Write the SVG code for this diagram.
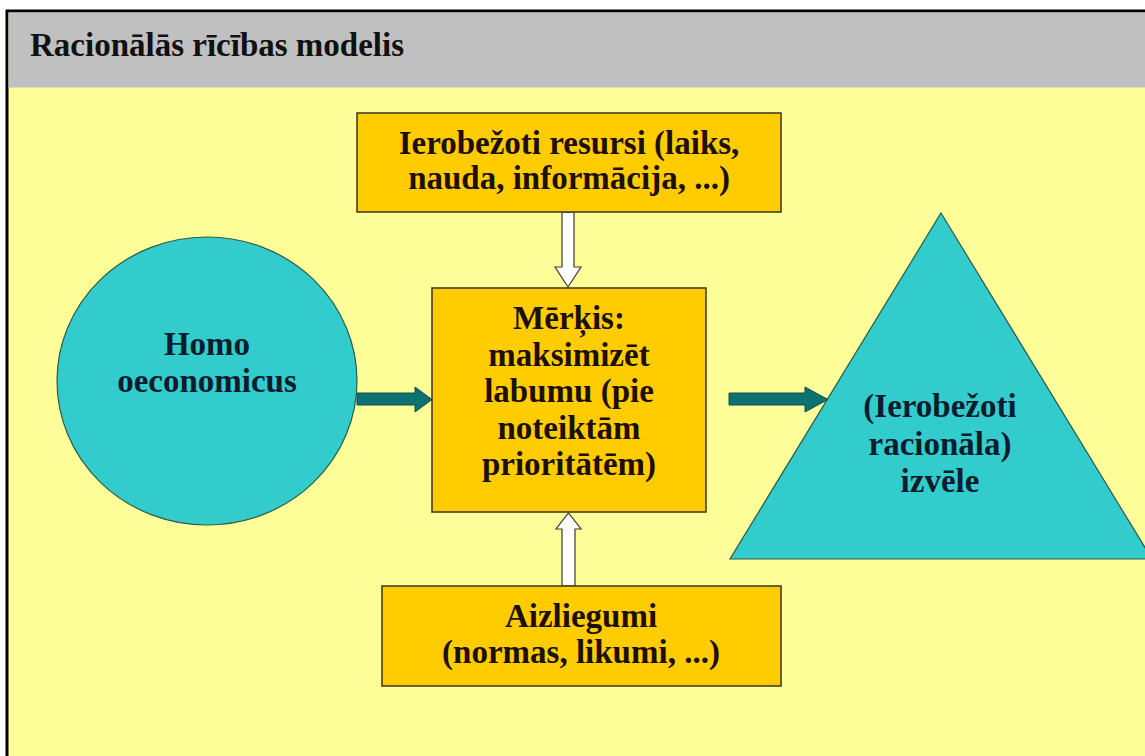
<svg xmlns="http://www.w3.org/2000/svg" width="1145" height="756" viewBox="0 0 1145 756">
  <style>
    .title { font-family: "Liberation Serif", "Times New Roman", serif; font-weight: bold; font-size: 33px; fill: #111; }
    .lbl { font-family: "Liberation Serif", "Times New Roman", serif; font-weight: bold; font-size: 33px; text-anchor: middle; }
    .box { fill: #ffcc00; stroke: #3d3320; stroke-width: 1.5; }
    .box-text { fill: #1e0f00; }
    .teal { fill: #33cccc; stroke: #2a5a4a; stroke-width: 1.2; }
    .teal-text { fill: #0b1d2c; }
    .hollow { fill: #ffffff; stroke: #3a3a3a; stroke-width: 1.2; }
    .solid { fill: #0f7272; stroke: #0a4f4f; stroke-width: 1; }
  </style>

  <!-- page background and framed slide -->
  <rect x="0" y="0" width="1145" height="756" fill="#ffffff"/>
  <rect x="7" y="11" width="1145" height="760" fill="#ffff99" stroke="#000" stroke-width="3"/>
  <rect x="8.5" y="12.5" width="1140" height="75" fill="#c0c0c0"/>
  <text class="title" x="30" y="56">Racionālās rīcības modelis</text>

  <!-- connectors -->
  <g id="connectors">
    <!-- resources down into goal -->
    <path class="hollow" d="M562,212 L574,212 L574,267 L581,267 L568,287 L555,267 L562,267 Z"/>
    <!-- constraints up into goal -->
    <path class="hollow" d="M562,586 L575,586 L575,529 L581,529 L568.5,513 L556,529 L562,529 Z"/>
    <!-- agent into goal -->
    <path class="solid" d="M357,393 L415,393 L415,387 L432,399.5 L415,412 L415,405 L357,405 Z"/>
    <!-- goal into choice -->
    <path class="solid" d="M729,393 L805,393 L805,387 L828,399.5 L805,412 L805,405 L729,405 Z"/>
  </g>

  <g id="node-agent">
    <ellipse class="teal" cx="207" cy="381" rx="150" ry="144"/>
    <text class="lbl teal-text" x="207" y="355">Homo</text>
    <text class="lbl teal-text" x="207" y="392">oeconomicus</text>
  </g>

  <g id="node-resources">
    <rect class="box" x="357" y="113" width="424" height="99"/>
    <text class="lbl box-text" x="569" y="154">Ierobežoti resursi (laiks,</text>
    <text class="lbl box-text" x="569" y="189">nauda, informācija, ...)</text>
  </g>

  <g id="node-goal">
    <rect class="box" x="432" y="288" width="274" height="224"/>
    <text class="lbl box-text" x="569" y="329">Mērķis:</text>
    <text class="lbl box-text" x="569" y="366">maksimizēt</text>
    <text class="lbl box-text" x="569" y="402">labumu (pie</text>
    <text class="lbl box-text" x="569" y="439">noteiktām</text>
    <text class="lbl box-text" x="569" y="475">prioritātēm)</text>
  </g>

  <g id="node-constraints">
    <rect class="box" x="382" y="586" width="399" height="100"/>
    <text class="lbl box-text" x="581" y="627">Aizliegumi</text>
    <text class="lbl box-text" x="581" y="663">(normas, likumi, ...)</text>
  </g>

  <g id="node-choice">
    <polygon class="teal" points="941,213 1152,559 730,559"/>
    <text class="lbl teal-text" x="940" y="417">(Ierobežoti</text>
    <text class="lbl teal-text" x="940" y="455">racionāla)</text>
    <text class="lbl teal-text" x="940" y="492">izvēle</text>
  </g>
</svg>
